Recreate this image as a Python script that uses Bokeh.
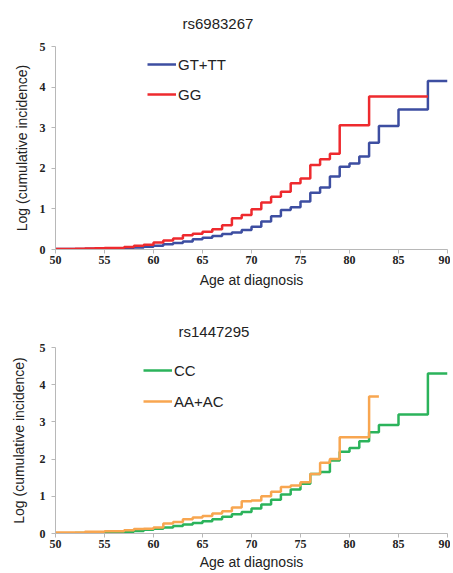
from bokeh.plotting import figure
from bokeh.layouts import column
from bokeh.models import Legend, LegendItem, FixedTicker
from bokeh.embed import file_html
from bokeh.resources import INLINE

# ---- data ----
x_ticks = [50, 55, 60, 65, 70, 75, 80, 85, 90]
y_ticks = [0, 1, 2, 3, 4, 5]

top_title = "rs6983267"
bottom_title = "rs1447295"

gt_tt_age = [50, 51, 52, 53, 54, 55, 56, 57, 58, 59, 60, 61, 62, 63, 64, 65, 66, 67, 68, 69,
             70, 71, 72, 73, 74, 75, 76, 77, 78, 79, 80, 81, 82, 83, 85, 88, 90]
gt_tt_val = [0.01, 0.01, 0.015, 0.02, 0.02, 0.03, 0.03, 0.04, 0.05, 0.07, 0.09, 0.13, 0.16, 0.20,
             0.25, 0.29, 0.33, 0.38, 0.42, 0.48, 0.56, 0.69, 0.82, 0.97, 1.04, 1.18, 1.40, 1.53,
             1.80, 2.04, 2.12, 2.29, 2.63, 3.04, 3.45, 4.15, 4.15]

gg_age = [50, 51, 52, 53, 54, 55, 56, 57, 58, 59, 60, 61, 62, 63, 64, 65, 66, 67, 68, 69,
          70, 71, 72, 73, 74, 75, 76, 77, 78, 79, 82, 88]
gg_val = [0.01, 0.015, 0.02, 0.025, 0.03, 0.035, 0.04, 0.06, 0.09, 0.12, 0.17, 0.22, 0.27, 0.35,
          0.39, 0.44, 0.50, 0.60, 0.77, 0.85, 0.99, 1.16, 1.30, 1.42, 1.63, 1.75, 2.08, 2.22,
          2.36, 3.06, 3.77, 3.77]

cc_age = [50, 51, 52, 53, 54, 55, 56, 57, 58, 59, 60, 61, 62, 63, 64, 65, 66, 67, 68, 69,
          70, 71, 72, 73, 74, 75, 76, 77, 78, 79, 80, 81, 82, 83, 85, 88, 90]
cc_val = [0.01, 0.01, 0.015, 0.02, 0.02, 0.025, 0.03, 0.05, 0.07, 0.10, 0.13, 0.16, 0.20, 0.24,
          0.28, 0.33, 0.38, 0.45, 0.52, 0.58, 0.67, 0.78, 0.91, 1.05, 1.18, 1.34, 1.60, 1.65,
          1.96, 2.20, 2.30, 2.48, 2.72, 2.92, 3.20, 4.30, 4.30]

aa_ac_age = [50, 53, 55, 57, 58, 59, 60, 61, 62, 63, 64, 65, 66, 67, 68, 69,
             70, 71, 72, 73, 74, 75, 76, 77, 78, 79, 82, 83]
aa_ac_val = [0.03, 0.05, 0.06, 0.09, 0.12, 0.13, 0.16, 0.27, 0.31, 0.38, 0.43, 0.47, 0.54, 0.60,
             0.70, 0.87, 0.89, 1.00, 1.12, 1.25, 1.29, 1.38, 1.60, 1.90, 2.00, 2.59, 3.68, 3.68]

BLUE = "#3d4ea1"
RED = "#ee2a2e"
GREEN = "#2bb35b"
ORANGE = "#f8a650"
AXIS_GRAY = "#b8b8b8"


def make_fig(title, height, b_left, b_right, b_top, b_bottom, title_offset, title_standoff,
             title_valign, ylabel_standoff, xlabel_standoff):
    p = figure(width=450, height=height, x_range=(50, 90), y_range=(0, 5),
               output_backend="svg", toolbar_location=None,
               min_border_left=b_left, min_border_right=b_right,
               min_border_top=b_top, min_border_bottom=b_bottom)
    p.title.text = title
    p.title.align = "left"
    p.title.vertical_align = title_valign
    p.title.offset = title_offset
    p.title.standoff = title_standoff
    p.title.text_font = "Liberation Sans"
    p.title.text_font_size = "15px"
    p.title.text_font_style = "normal"
    p.title.text_color = "#222222"
    p.outline_line_color = None
    p.xgrid.grid_line_color = None
    p.ygrid.grid_line_color = None
    p.xaxis.ticker = FixedTicker(ticks=x_ticks)
    p.yaxis.ticker = FixedTicker(ticks=y_ticks)
    for ax in (p.xaxis[0], p.yaxis[0]):
        ax.axis_line_color = AXIS_GRAY
        ax.major_tick_line_color = AXIS_GRAY
        ax.minor_tick_line_color = None
        ax.major_tick_out = 4
        ax.major_tick_in = 0
        ax.major_label_text_font = "Liberation Serif"
        ax.major_label_text_font_style = "bold"
        ax.major_label_text_font_size = "12px"
        ax.major_label_text_color = "#222222"
        ax.axis_label_text_font = "Liberation Sans"
        ax.axis_label_text_font_size = "14px"
        ax.axis_label_text_font_style = "normal"
        ax.axis_label_text_color = "#222222"
    p.xaxis.axis_label = "Age at diagnosis"
    p.yaxis.axis_label = "Log (cumulative incidence)"
    p.xaxis.major_label_standoff = 2
    p.xaxis.axis_label_standoff = xlabel_standoff
    p.yaxis.major_label_standoff = 6
    p.yaxis.axis_label_standoff = ylabel_standoff
    return p


p1 = make_fig(top_title, 290, 51, 2, 46, 41, 127, 26, "top", 7, 5)
r_blue = p1.step(gt_tt_age, gt_tt_val, mode="after", line_color=BLUE, line_width=2.5)
r_red = p1.step(gg_age, gg_val, mode="after", line_color=RED, line_width=2.5)
leg1 = Legend(items=[LegendItem(label="GT+TT", renderers=[r_blue]),
                     LegendItem(label="GG", renderers=[r_red])],
              location=(92, 145), background_fill_alpha=0, border_line_color=None,
              glyph_width=29, glyph_height=20, label_height=20, label_standoff=2,
              spacing=10, padding=5, label_text_font="Liberation Sans",
              label_text_font_size="15px", label_text_color="#222222")
p1.add_layout(leg1, "center")

p2 = make_fig(bottom_title, 282, 55, 3, 57, 39, 123, 15, "bottom", 10, 3)
r_green = p2.step(cc_age, cc_val, mode="after", line_color=GREEN, line_width=2.5)
r_orange = p2.step(aa_ac_age, aa_ac_val, mode="after", line_color=ORANGE, line_width=2.5)
leg2 = Legend(items=[LegendItem(label="CC", renderers=[r_green]),
                     LegendItem(label="AA+AC", renderers=[r_orange])],
              location=(88, 122), background_fill_alpha=0, border_line_color=None,
              glyph_width=29, glyph_height=20, label_height=20, label_standoff=2,
              spacing=11, padding=5, label_text_font="Liberation Sans",
              label_text_font_size="15px", label_text_color="#222222")
p2.add_layout(leg2, "center")

layout = column(p1, p2, spacing=0)
open("out.html", "w").write(file_html(layout, INLINE))
